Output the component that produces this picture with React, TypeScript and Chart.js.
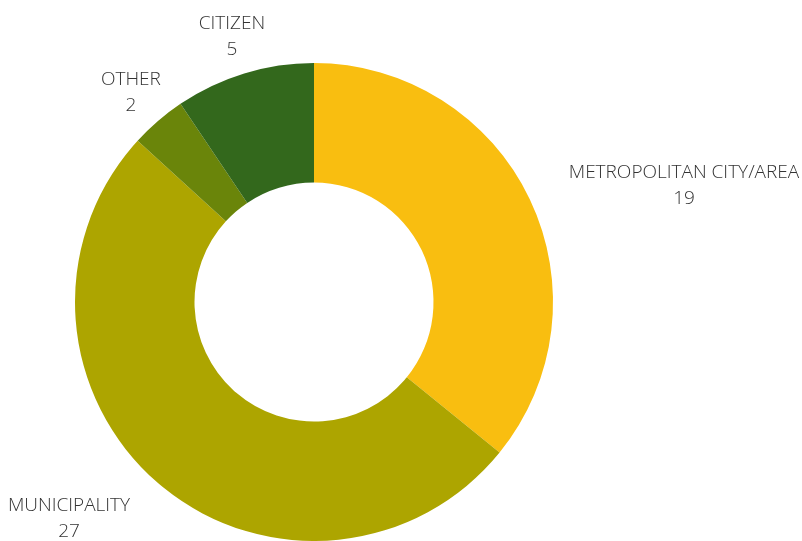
import React, { useEffect, useRef } from "react";
import { Chart, registerables } from "chart.js";

Chart.register(...registerables);

const categories = ["METROPOLITAN CITY/AREA", "MUNICIPALITY", "OTHER", "CITIZEN"];
const values = [19, 27, 2, 5];
const colors = ["#F9BE10", "#ADA500", "#6A850A", "#33681C"];
// label block centre, relative to the chart centre in units of outer radius
const labelOffsets = [
  [1.548, -0.486],
  [-1.025, 0.907],
  [-0.766, -0.876],
  [-0.343, -1.11],
];

const labelPlugin = {
  id: "outerLabels",
  afterDatasetsDraw(chart: any) {
    const meta = chart.getDatasetMeta(0);
    const ctx = chart.ctx;
    ctx.save();
    ctx.font = "300 19px 'Open Sans', sans-serif";
    ctx.fillStyle = "#333333";
    ctx.textAlign = "center";
    ctx.textBaseline = "middle";
    meta.data.forEach((arc: any, i: number) => {
      const r = arc.outerRadius;
      const x = arc.x + labelOffsets[i][0] * r;
      const y = arc.y + labelOffsets[i][1] * r;
      ctx.fillText(categories[i], x, y - 13);
      ctx.fillText(String(values[i]), x, y + 13);
    });
    ctx.restore();
  },
};

export default function App() {
  const ref = useRef<HTMLCanvasElement>(null);
  useEffect(() => {
    const chart = new Chart(ref.current!, {
      type: "doughnut",
      data: {
        labels: categories,
        datasets: [
          {
            data: values,
            backgroundColor: colors,
            borderWidth: 0,
          },
        ],
      },
      options: {
        animation: false,
        responsive: false,
        cutout: "50%",
        layout: { padding: { left: 74, top: 63, right: 248, bottom: 0 } },
        plugins: { legend: { display: false }, tooltip: { enabled: false } },
      },
      plugins: [labelPlugin],
    });
    return () => chart.destroy();
  }, []);
  return (
    <div style={{ position: "fixed", left: 0, top: 0, width: 802, height: 541, background: "#fff" }}>
      <canvas ref={ref} width={802} height={541} />
    </div>
  );
}
